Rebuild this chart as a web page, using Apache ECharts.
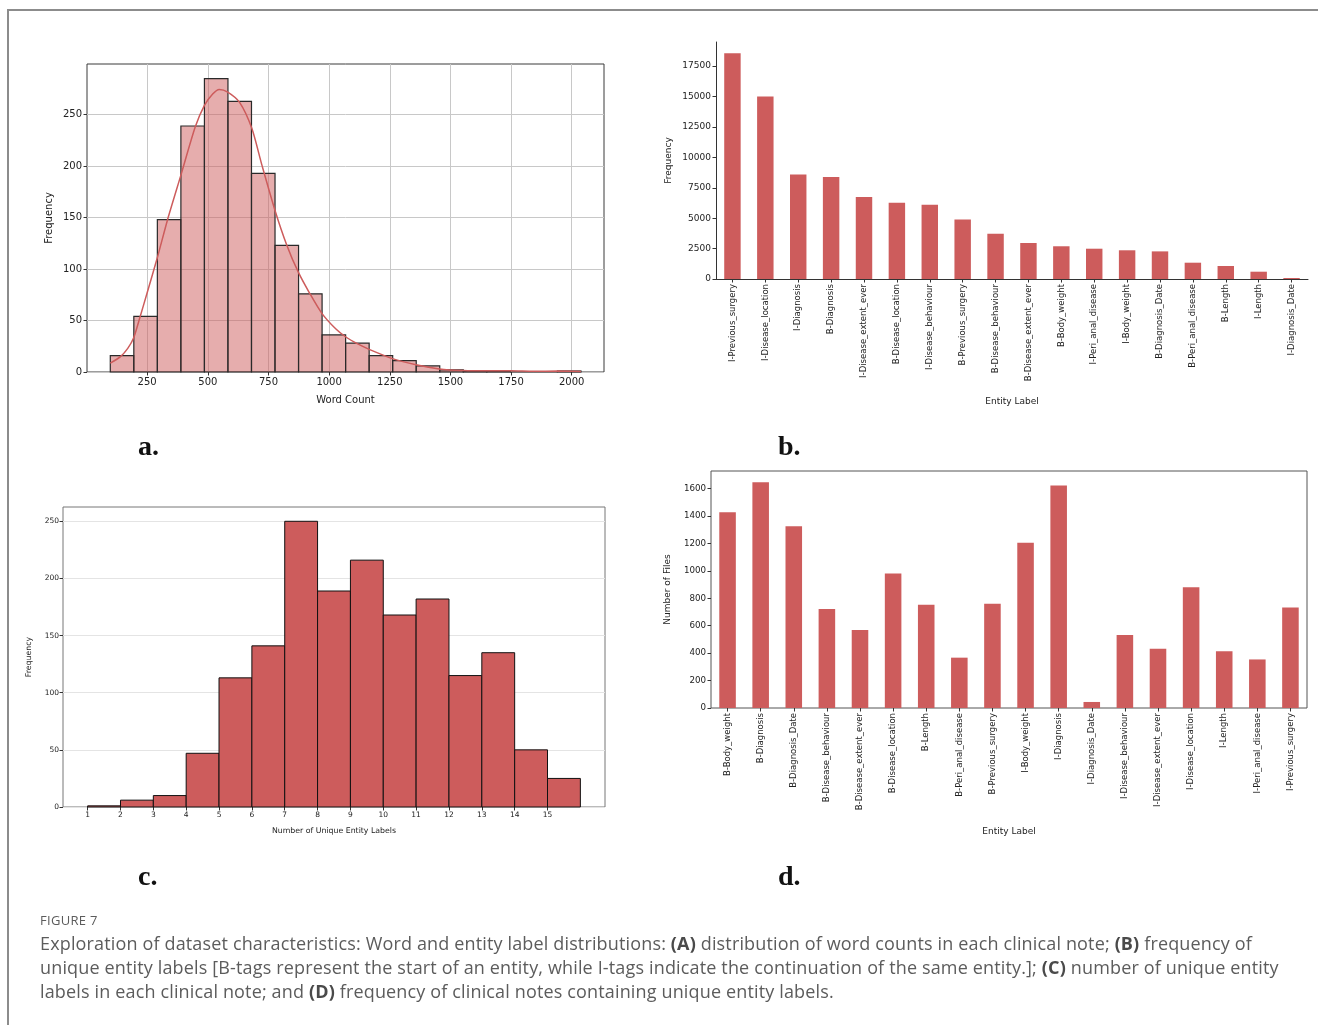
<!DOCTYPE html>
<html>
<head>
<meta charset="utf-8">
<script src="https://cdn.jsdelivr.net/npm/echarts@6/dist/echarts.min.js"></script>
<style>
  html, body { margin: 0; padding: 0; background: #fff; }
  #page { position: relative; width: 1318px; height: 1025px; overflow: hidden; background: #fff; }
  #frame { position: absolute; left: 7px; top: 9px; right: -4px; bottom: -4px;
           border-top: 2px solid #8c8c8c; border-left: 2px solid #8c8c8c; }
  #chart { position: absolute; left: 0; top: 0; width: 1318px; height: 1025px; }
  #caption { position: absolute; left: 40px; top: 910px; font-family: "Open Sans", Lato, sans-serif; color: #5c5c5c; }
  #caption .fig { font-size: 13px; letter-spacing: 0.3px; line-height: 20px; margin-bottom: 1px; }
  #caption .line { font-size: 18px; line-height: 24px; white-space: nowrap; letter-spacing: 0.15px; }
  #caption b { color: #4a4a4a; }
</style>
</head>
<body>
<div id="page">
  <div id="frame"></div>
  <div id="chart"></div>
  <div id="caption">
    <div class="fig">FIGURE 7</div>
    <div class="line">Exploration of dataset characteristics: Word and entity label distributions: <b>(A)</b> distribution of word counts in each clinical note; <b>(B)</b> frequency of</div>
    <div class="line">unique entity labels [B-tags represent the start of an entity, while I-tags indicate the continuation of the same entity.]; <b>(C)</b> number of unique entity</div>
    <div class="line">labels in each clinical note; and <b>(D)</b> frequency of clinical notes containing unique entity labels.</div>
  </div>
</div>
<script>
// (a) word count histogram: bin edges, counts and the smoothed density line
const wordBinEdges = [98, 195, 292, 389, 486, 583, 680, 777, 874, 971, 1068,
                      1165, 1262, 1359, 1456, 1553, 1650, 1747, 1844, 1941, 2038];
const wordCounts = [16, 54, 148, 239, 285, 263, 193, 123, 76, 36,
                    28, 16, 11, 6, 2, 1, 1, 0, 0, 1];
const wordKde = [
  [98, 8.7], [140, 15], [170, 23], [194, 33], [220, 53], [250, 77], [293, 112],
  [334, 148], [390, 192], [448, 238], [486, 259], [520, 270], [547, 274.5],
  [582, 272], [631, 262], [681, 237], [723, 201], [777, 157], [826, 123],
  [873, 97], [921, 76], [970, 57], [1027, 42], [1069, 34], [1120, 27], [1165, 22],
  [1261, 13], [1358, 7], [1454, 3], [1553, 1.4], [1652, 1.1], [1747, 1.2],
  [1843, 0.7], [1942, 0.9], [2038, 0.6]
];
const wordXTicks = [250, 500, 750, 1000, 1250, 1500, 1750, 2000];
const wordYTicks = [0, 50, 100, 150, 200, 250];

// (b) frequency of each entity label
const labelFreqCats = ['I-Previous_surgery', 'I-Disease_location', 'I-Diagnosis', 'B-Diagnosis',
  'I-Disease_extent_ever', 'B-Disease_location', 'I-Disease_behaviour', 'B-Previous_surgery',
  'B-Disease_behaviour', 'B-Disease_extent_ever', 'B-Body_weight', 'I-Peri_anal_disease',
  'I-Body_weight', 'B-Diagnosis_Date', 'B-Peri_anal_disease', 'B-Length', 'I-Length', 'I-Diagnosis_Date'];
const labelFreqValues = [18550, 15000, 8580, 8380, 6740, 6270, 6110, 4900,
  3720, 2960, 2690, 2490, 2360, 2270, 1340, 1070, 600, 80];
const labelFreqTicks = [0, 2500, 5000, 7500, 10000, 12500, 15000, 17500];

// (c) number of unique entity labels per note
const uniqueBinEdges = [1, 2, 3, 4, 5, 6, 7, 8, 9, 10, 11, 12, 13, 14, 15, 16];
const uniqueCounts = [1, 6, 10, 47, 113, 141, 250, 189, 216, 168, 182, 115, 135, 50, 25];
const uniqueXTicks = [1, 2, 3, 4, 5, 6, 7, 8, 9, 10, 11, 12, 13, 14, 15];
const uniqueYTicks = [0, 50, 100, 150, 200, 250];

// (d) number of files containing each entity label
const fileCats = ['B-Body_weight', 'B-Diagnosis', 'B-Diagnosis_Date', 'B-Disease_behaviour',
  'B-Disease_extent_ever', 'B-Disease_location', 'B-Length', 'B-Peri_anal_disease',
  'B-Previous_surgery', 'I-Body_weight', 'I-Diagnosis', 'I-Diagnosis_Date',
  'I-Disease_behaviour', 'I-Disease_extent_ever', 'I-Disease_location', 'I-Length',
  'I-Peri_anal_disease', 'I-Previous_surgery'];
const fileValues = [1428, 1646, 1326, 721, 568, 981, 753, 367, 760, 1204, 1622, 44,
  532, 432, 881, 413, 354, 733];
const fileTicks = [0, 200, 400, 600, 800, 1000, 1200, 1400, 1600];

const RED = '#cd5c5c';
const TXT = '#222';
const FONT = 'DejaVu Sans';

// histogram bars drawn as rectangles between bin edges on a value axis
function histSeries(edges, counts, idx, fill, stroke, lw) {
  return {
    type: 'custom',
    xAxisIndex: idx, yAxisIndex: idx,
    data: counts.map((c, i) => [edges[i], edges[i + 1], c]),
    encode: { x: [0, 1], y: 2 },
    renderItem: function (params, api) {
      const p0 = api.coord([api.value(0), 0]);
      const p1 = api.coord([api.value(1), api.value(2)]);
      return {
        type: 'rect',
        shape: { x: p0[0], y: p1[1], width: p1[0] - p0[0], height: p0[1] - p1[1] },
        style: { fill: fill, stroke: stroke, lineWidth: lw }
      };
    },
    z: 2
  };
}

const plain = v => String(v);

function tick(values, color) {
  const t = { show: true, length: 3.5, lineStyle: { color: color || '#333', width: 1 } };
  if (values) t.customValues = values;
  return t;
}
function lbl(values, size, extra) {
  const l = Object.assign({ color: TXT, fontSize: size, fontFamily: FONT, margin: 5 }, extra || {});
  if (values) { l.customValues = values; l.formatter = plain; }
  return l;
}
function axisName(size) {
  return { color: TXT, fontSize: size, fontFamily: FONT };
}

const chart = echarts.init(document.getElementById('chart'), null, { renderer: 'canvas' });

const option = {
  animation: false,
  textStyle: { fontFamily: FONT },
  grid: [
    { left: 87, top: 64, width: 517, height: 308, show: true, borderColor: '#3a3a3a', borderWidth: 1 },
    { left: 716, top: 42, width: 592, height: 237 },
    { left: 63, top: 507, width: 542, height: 300, show: true, borderColor: '#777', borderWidth: 1 },
    { left: 711, top: 471, width: 596, height: 237, show: true, borderColor: '#555', borderWidth: 1 }
  ],
  xAxis: [
    {
      gridIndex: 0, type: 'value', min: 2, max: 2133,
      axisLine: { show: false }, axisTick: tick(wordXTicks), axisLabel: lbl(wordXTicks, 10),
      splitLine: { show: true, lineStyle: { color: '#c8c8c8', width: 1 } },
      name: 'Word Count', nameLocation: 'middle', nameGap: 23, nameTextStyle: axisName(10)
    },
    {
      gridIndex: 1, type: 'category', data: labelFreqCats,
      axisLine: { show: true, lineStyle: { color: '#333', width: 1 } },
      axisTick: { show: true, alignWithLabel: true, length: 3.5, lineStyle: { color: '#333' } },
      axisLabel: lbl(null, 8.5, { rotate: 90, interval: 0, margin: 5 }),
      name: 'Entity Label', nameLocation: 'middle', nameGap: 118, nameTextStyle: axisName(9)
    },
    {
      gridIndex: 2, type: 'value', min: 0.25, max: 16.75,
      axisLine: { show: false }, axisTick: tick(uniqueXTicks), axisLabel: lbl(uniqueXTicks, 7.5, { margin: 4 }),
      splitLine: { show: false },
      name: 'Number of Unique Entity Labels', nameLocation: 'middle', nameGap: 20, nameTextStyle: axisName(7.8)
    },
    {
      gridIndex: 3, type: 'category', data: fileCats,
      axisLine: { show: false },
      axisTick: { show: true, alignWithLabel: true, length: 3.5, lineStyle: { color: '#333' } },
      axisLabel: lbl(null, 8.5, { rotate: 90, interval: 0, margin: 5 }),
      name: 'Entity Label', nameLocation: 'middle', nameGap: 119, nameTextStyle: axisName(9)
    }
  ],
  yAxis: [
    {
      gridIndex: 0, type: 'value', min: 0, max: 299.25,
      axisLine: { show: false }, axisTick: tick(wordYTicks), axisLabel: lbl(wordYTicks, 10),
      splitLine: { show: true, lineStyle: { color: '#c8c8c8', width: 1 } },
      name: 'Frequency', nameLocation: 'middle', nameGap: 33, nameTextStyle: axisName(10)
    },
    {
      gridIndex: 1, type: 'value', min: 0, max: 19480,
      axisLine: { show: true, lineStyle: { color: '#333', width: 1 } },
      axisTick: tick(labelFreqTicks), axisLabel: lbl(labelFreqTicks, 9),
      splitLine: { show: false },
      name: 'Frequency', nameLocation: 'middle', nameGap: 43, nameTextStyle: axisName(9)
    },
    {
      gridIndex: 2, type: 'value', min: 0, max: 262.5,
      axisLine: { show: false }, axisTick: tick(uniqueYTicks), axisLabel: lbl(uniqueYTicks, 7.5, { margin: 4 }),
      splitLine: { show: true, lineStyle: { color: '#e4e4e4', width: 1 } },
      name: 'Frequency', nameLocation: 'middle', nameGap: 30, nameTextStyle: axisName(7.8)
    },
    {
      gridIndex: 3, type: 'value', min: 0, max: 1728,
      axisLine: { show: false }, axisTick: tick(fileTicks), axisLabel: lbl(fileTicks, 8.7),
      splitLine: { show: false },
      name: 'Number of Files', nameLocation: 'middle', nameGap: 39, nameTextStyle: axisName(9)
    }
  ],
  series: [
    histSeries(wordBinEdges, wordCounts, 0, 'rgba(205,92,92,0.5)', '#2a2a2a', 1.2),
    {
      type: 'line', xAxisIndex: 0, yAxisIndex: 0, data: wordKde,
      smooth: 0.25,
      showSymbol: false, lineStyle: { color: RED, width: 1.5 }, z: 3
    },
    {
      type: 'bar', xAxisIndex: 1, yAxisIndex: 1, data: labelFreqValues,
      barWidth: '50%', itemStyle: { color: RED }
    },
    histSeries(uniqueBinEdges, uniqueCounts, 2, RED, '#111', 1),
    {
      type: 'bar', xAxisIndex: 3, yAxisIndex: 3, data: fileValues,
      barWidth: '50%', itemStyle: { color: RED }
    }
  ],
  graphic: [
    { type: 'text', left: 138, top: 434, style: { text: 'a.', font: 'bold 28px "Liberation Serif", serif', fill: '#111' } },
    { type: 'text', left: 778, top: 434, style: { text: 'b.', font: 'bold 28px "Liberation Serif", serif', fill: '#111' } },
    { type: 'text', left: 138, top: 864, style: { text: 'c.', font: 'bold 28px "Liberation Serif", serif', fill: '#111' } },
    { type: 'text', left: 778, top: 864, style: { text: 'd.', font: 'bold 28px "Liberation Serif", serif', fill: '#111' } }
  ]
};

chart.setOption(option);
</script>
</body>
</html>
